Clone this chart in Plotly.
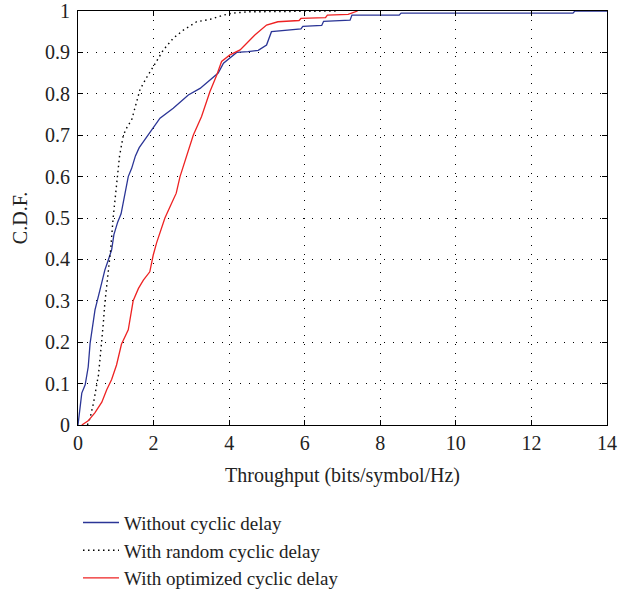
import plotly.graph_objects as go

# Empirical CDF breakpoints (throughput in bits/symbol/Hz, cumulative probability)
no_delay_x = [0, 0.05, 0.1, 0.19, 0.27, 0.32, 0.45, 0.58, 0.71, 0.8, 0.89, 0.95,
              1.05, 1.14, 1.2, 1.26, 1.33, 1.42, 1.52, 1.62, 1.82, 2.0, 2.17, 2.52,
              2.92, 3.23, 3.49, 3.71, 3.85, 4.02, 4.2, 4.5, 4.77, 4.99, 5.12,
              5.9, 5.95, 6.45, 6.5, 7.2, 7.25, 8.5, 8.55, 13.1, 13.15, 14.0]
no_delay_y = [0, 0.04, 0.077, 0.097, 0.14, 0.197, 0.278, 0.326, 0.374, 0.398, 0.423, 0.46,
              0.49, 0.51, 0.54, 0.57, 0.6, 0.62, 0.65, 0.67, 0.696, 0.72, 0.741, 0.765,
              0.797, 0.813, 0.833, 0.85, 0.874, 0.886, 0.9, 0.902, 0.905, 0.918, 0.95,
              0.957, 0.963, 0.965, 0.975, 0.978, 0.99, 0.99, 0.995, 0.995, 1.0, 1.0]

random_x = [0.25, 0.32, 0.41, 0.47, 0.54, 0.58, 0.63, 0.67, 0.71, 0.76, 0.82, 0.86, 0.93,
            0.98, 1.03, 1.1, 1.2, 1.3, 1.42, 1.64, 1.82, 2.04, 2.26, 2.52, 2.79, 3.14,
            3.5, 3.85, 4.1, 4.5, 6.9]
random_y = [0, 0.017, 0.053, 0.085, 0.12, 0.157, 0.2, 0.246, 0.294, 0.334, 0.382, 0.42, 0.5,
            0.55, 0.6, 0.65, 0.7, 0.72, 0.737, 0.81, 0.84, 0.874, 0.906, 0.934, 0.954, 0.974,
            0.98, 0.99, 0.995, 0.998, 1.0]

optimized_x = [0.1, 0.27, 0.45, 0.63, 0.76, 0.89, 1.02, 1.15, 1.33, 1.46, 1.6, 1.73, 1.9,
               1.99, 2.08, 2.18, 2.3, 2.45, 2.6, 2.7, 2.8, 2.92, 3.05, 3.27, 3.49, 3.67,
               3.8, 4.02, 4.29, 4.42, 4.68, 4.99, 5.29, 5.85, 5.9, 6.55, 6.6, 7.15, 7.4]
optimized_y = [0, 0.01, 0.03, 0.055, 0.085, 0.11, 0.145, 0.195, 0.23, 0.3, 0.33, 0.35, 0.37,
               0.41, 0.44, 0.47, 0.5, 0.53, 0.56, 0.6, 0.63, 0.66, 0.7, 0.745, 0.805, 0.845,
               0.878, 0.894, 0.906, 0.918, 0.942, 0.966, 0.974, 0.977, 0.982, 0.984, 0.99,
               0.992, 1.0]

x_ticks = [0, 2, 4, 6, 8, 10, 12, 14]
y_ticks = [0, 0.1, 0.2, 0.3, 0.4, 0.5, 0.6, 0.7, 0.8, 0.9, 1.0]
y_tick_text = ["0", "0.1", "0.2", "0.3", "0.4", "0.5", "0.6", "0.7", "0.8", "0.9", "1"]

FONT = "Liberation Serif"
TEXT = "#222222"

fig = go.Figure()
fig.add_trace(go.Scatter(x=no_delay_x, y=no_delay_y, mode="lines",
                         line=dict(color="#2b3596", width=1.3),
                         name="Without cyclic delay", legendgroup="a"))
fig.add_trace(go.Scatter(x=random_x, y=random_y, mode="lines",
                         line=dict(color="black", width=1.4, dash="1.5px,3.5px"),
                         name="With random cyclic delay", legendgroup="b"))
fig.add_trace(go.Scatter(x=optimized_x, y=optimized_y, mode="lines",
                         line=dict(color="#ee2222", width=1.3),
                         name="With optimized cyclic delay", legendgroup="c"))

axis_common = dict(
    showline=True, linecolor="black", linewidth=1, mirror="ticks",
    ticks="inside", ticklen=5, tickcolor="black",
    showgrid=True, gridcolor="black", gridwidth=1, griddash="1px,8px",
    zeroline=False, tickfont=dict(family=FONT, size=20, color=TEXT),
)

fig.update_xaxes(range=[0, 14], tickvals=x_ticks, **axis_common,
                 title=dict(text="Throughput (bits/symbol/Hz)",
                            font=dict(family=FONT, size=20, color=TEXT), standoff=14))
fig.update_yaxes(range=[0, 1], tickvals=y_ticks, ticktext=y_tick_text, **axis_common,
                 ticklabelstandoff=3,
                 title=dict(text="C.D.F.", font=dict(family=FONT, size=20, color=TEXT),
                            standoff=12))

fig.update_layout(
    width=619, height=590,
    margin=dict(l=78, r=12, t=11, b=165, autoexpand=False),
    plot_bgcolor="white", paper_bgcolor="white",
    showlegend=True,
    legend=dict(x=0.0, xanchor="left", y=-0.19, yanchor="top", itemwidth=36,
                font=dict(family=FONT, size=19, color=TEXT),
                tracegroupgap=0, bgcolor="rgba(0,0,0,0)"),
)

fig.write_html("out.html")
